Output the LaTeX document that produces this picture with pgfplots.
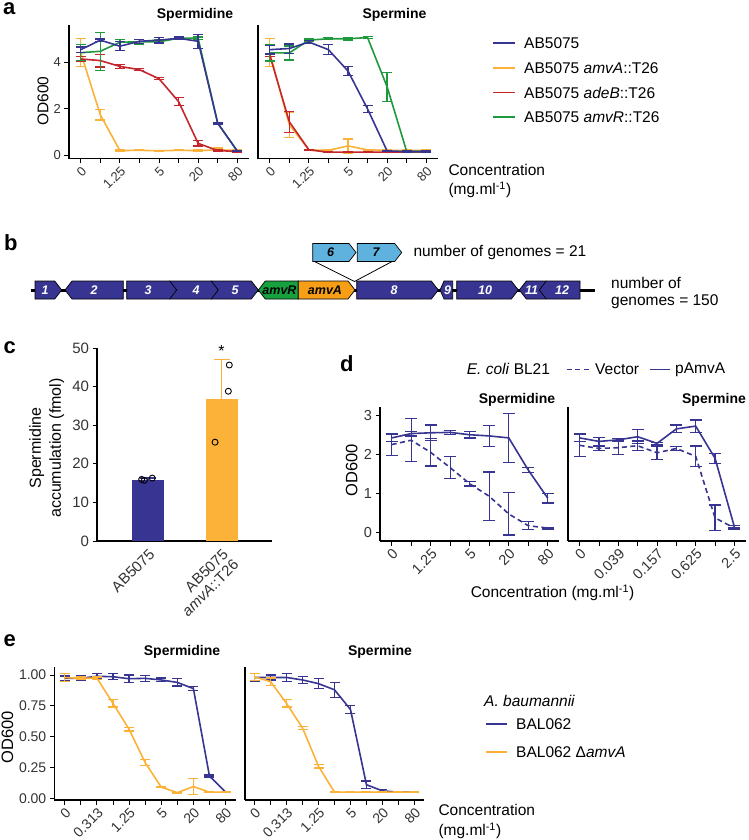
\documentclass[border=0pt]{standalone}
\usepackage{fontspec}
\setmainfont{Liberation Sans}
\usepackage{pgfplots}
\pgfplotsset{compat=1.18}
\definecolor{cblue}{RGB}{56,52,145}
\definecolor{corange}{RGB}{252,178,56}
\definecolor{cred}{RGB}{196,38,44}
\definecolor{cgreen}{RGB}{30,154,60}
\definecolor{gorange}{RGB}{245,158,22}
\definecolor{glight}{RGB}{96,178,222}
\definecolor{ggreen}{RGB}{22,160,62}
\newcommand{\fs}[1]{\fontsize{#1}{#1}\selectfont}
\newcommand{\gfont}{\fs{12.5}\bfseries\itshape}
\pgfplotsset{
  gg/.style={scale only axis, anchor=south west, clip=false,
    axis x line*=bottom, axis y line*=left,
    axis line style={line width=1.1pt,-,black},
    tick style={black, line width=0.9pt},
    tick align=outside, major tick length=4.5pt,
    tick label style={font=\fs{14}, text=black!80},
    /pgf/number format/assume math mode=true,
    xticklabel style={rotate=45, anchor=north east, inner sep=1.5pt},
  },
  eb/.style={line width=1.6pt, mark=none,
    /pgfplots/error bars/y dir=both,
    /pgfplots/error bars/y explicit,
    /pgfplots/error bars/error bar style={line width=1.3pt, solid},
    /pgfplots/error bars/error mark options={rotate=90, mark size=#1, line width=1.3pt, solid}},
  eb/.default=5pt,
}
% right-pointing gene: x1 x2 ymid fill
\newcommand{\gR}[4]{%
  \filldraw[fill=#4,draw=black,line width=0.7pt] (#1pt,{-(#3-9)*1pt}) -- ({(#2-7)*1pt},{-(#3-9)*1pt}) -- (#2pt,-#3pt) -- ({(#2-7)*1pt},{-(#3+9)*1pt}) -- (#1pt,{-(#3+9)*1pt}) -- cycle;}
% left-pointing gene
\newcommand{\gL}[4]{%
  \filldraw[fill=#4,draw=black,line width=0.7pt] (#1pt,-#3pt) -- ({(#1+7)*1pt},{-(#3-9)*1pt}) -- (#2pt,{-(#3-9)*1pt}) -- (#2pt,{-(#3+9)*1pt}) -- ({(#1+7)*1pt},{-(#3+9)*1pt}) -- cycle;}
% gene label: x y text colour
\newcommand{\gT}[4]{\node[text=#4,font=\gfont,inner sep=0] at (#1pt,-#2pt) {#3};}
\begin{document}
\begin{tikzpicture}
\useasboundingbox (0pt,0pt) rectangle (748pt,-840pt);
% ---------- panel letters
\node[font=\fs{22}\bfseries, anchor=base west, inner sep=0] at (3pt,-14.5pt) {a};
\node[font=\fs{22}\bfseries, anchor=base west, inner sep=0] at (4pt,-250pt) {b};
\node[font=\fs{22}\bfseries, anchor=base west, inner sep=0] at (3.3pt,-353.3pt) {c};
\node[font=\fs{22}\bfseries, anchor=base west, inner sep=0] at (340pt,-371.7pt) {d};
\node[font=\fs{22}\bfseries, anchor=base west, inner sep=0] at (3.3pt,-646.7pt) {e};

% ================= panel a
\begin{axis}[gg, at={(69pt,-158.7pt)}, width=180pt, height=133.9pt,
  xmin=-0.6, xmax=8.6, ymin=-0.16, ymax=5.6,
  xtick={0,...,8}, xticklabels={0,,1.25,,5,,20,,80},
  ytick={0,2,4}, yticklabels={0,2,4}, tick label style={font=\fs{13}}]
\addplot[corange, eb] table[x index=0, y index=1, y error index=2] {
0 4.4 0.6
1 1.73 0.22
2 0.19 0.02
3 0.2 0.02
4 0.18 0.02
5 0.2 0.02
6 0.19 0.03
7 0.22 0.08
8 0.2 0.05
};
\addplot[cred, eb] table[x index=0, y index=1, y error index=2] {
0 4.13 0.1
1 4.06 0.27
2 3.81 0.08
3 3.67 0.05
4 3.28 0.04
5 2.3 0.18
6 0.5 0.12
7 0.19 0.03
8 0.15 0.03
};
\addplot[cgreen, eb] table[x index=0, y index=1, y error index=2] {
0 4.4 0.35
1 4.46 0.82
2 4.85 0.13
3 4.87 0.1
4 4.87 0.08
5 5.02 0.05
6 5.02 0.05
7 1.37 0.03
8 0.17 0.03
};
\addplot[cblue, eb] table[x index=0, y index=1, y error index=2] {
0 4.53 0.12
1 4.94 0.05
2 4.68 0.2
3 4.89 0.08
4 4.94 0.12
5 5.02 0.05
6 4.89 0.3
7 1.37 0.04
8 0.17 0.03
};
\end{axis}
\begin{axis}[gg, at={(258pt,-158.7pt)}, width=180pt, height=133.9pt,
  xmin=-0.6, xmax=8.6, ymin=-0.16, ymax=5.6,
  xtick={0,...,8}, xticklabels={0,,1.25,,5,,20,,80},
  ytick=\empty, tick label style={font=\fs{13}}]
\addplot[corange, eb] table[x index=0, y index=1, y error index=2] {
0 4.4 0.6
1 1.3 0.55
2 0.22 0.03
3 0.2 0.03
4 0.39 0.3
5 0.22 0.03
6 0.2 0.03
7 0.2 0.03
8 0.2 0.05
};
\addplot[cred, eb] table[x index=0, y index=1, y error index=2] {
0 4.3 0.05
1 1.43 0.45
2 0.22 0.02
3 0.12 0.02
4 0.12 0.02
5 0.12 0.02
6 0.12 0.02
7 0.12 0.02
8 0.12 0.02
};
\addplot[cgreen, eb] table[x index=0, y index=1, y error index=2] {
0 4.39 0.35
1 4.39 0.3
2 4.94 0.05
3 5.0 0.04
4 5.0 0.06
5 5.05 0.04
6 2.93 0.62
7 0.15 0.02
8 0.15 0.02
};
\addplot[cblue, eb] table[x index=0, y index=1, y error index=2] {
0 4.53 0.18
1 4.58 0.2
2 4.86 0.05
3 4.53 0.22
4 3.61 0.2
5 1.98 0.15
6 0.17 0.02
7 0.15 0.02
8 0.15 0.02
};
\end{axis}
\node[font=\fs{14}\bfseries, inner sep=0] at (195pt,-14.5pt) {Spermidine};
\node[font=\fs{14}\bfseries, inner sep=0] at (394.5pt,-14.5pt) {Spermine};
\node[font=\fs{15.5}, rotate=90, inner sep=0] at (43pt,-101pt) {OD600};
\node[font=\fs{15.5}, anchor=west, inner sep=0] at (448.3pt,-170pt) {Concentration};
\node[font=\fs{15.5}, anchor=west, inner sep=0] at (448.3pt,-190pt) {(mg.ml\textsuperscript{-1})};
% legend a
\draw[cblue, line width=1.6pt] (493.3pt,-43.3pt) -- (515pt,-43.3pt);
\draw[corange, line width=1.6pt] (493.3pt,-68.3pt) -- (515pt,-68.3pt);
\draw[cred, line width=1.6pt] (493.3pt,-92.7pt) -- (515pt,-92.7pt);
\draw[cgreen, line width=1.6pt] (493.3pt,-117.3pt) -- (515pt,-117.3pt);
\node[font=\fs{15.5}, anchor=west, inner sep=0] at (524pt,-43.3pt) {AB5075};
\node[font=\fs{15.5}, anchor=west, inner sep=0] at (524pt,-68.3pt) {AB5075 \textit{amvA}::T26};
\node[font=\fs{15.5}, anchor=west, inner sep=0] at (524pt,-92.7pt) {AB5075 \textit{adeB}::T26};
\node[font=\fs{15.5}, anchor=west, inner sep=0] at (524pt,-117.3pt) {AB5075 \textit{amvR}::T26};

% ================= panel b
\draw[line width=3pt] (30.7pt,-290pt) -- (595pt,-290pt);
\gR{35}{61.7}{290}{cblue}
\gL{65}{123.3}{290}{cblue}
\gR{211.3}{258.3}{290}{cblue}
\gR{169.7}{218.3}{290}{cblue}
\gR{126.7}{176.7}{290}{cblue}
\gL{258.3}{298.3}{290}{ggreen}
\gR{298.3}{355}{290}{gorange}
\gR{356.7}{438.3}{290}{cblue}
\filldraw[fill=cblue,draw=black,line width=0.7pt] (440pt,-290pt) -- (444pt,-281pt) -- (452.7pt,-281pt) -- (452.7pt,-299pt) -- (444pt,-299pt) -- cycle;
\gR{456.7}{518.3}{290}{cblue}
\gL{519.3}{546}{290}{cblue}
\gL{539.3}{580}{290}{cblue}
\gR{312.7}{356}{252.5}{glight}
\gR{357.3}{401.7}{252.5}{glight}
\gT{45}{290}{1}{white}
\gT{94}{290}{2}{white}
\gT{148}{290}{3}{white}
\gT{196}{290}{4}{white}
\gT{235}{290}{5}{white}
\gT{279.5}{290}{amvR}{black}
\gT{325}{290}{amvA}{black}
\gT{394}{290}{8}{white}
\gT{447.5}{290}{9}{white}
\gT{485}{290}{10}{white}
\gT{531.5}{290}{11}{white}
\gT{562}{290}{12}{white}
\gT{330.5}{252.5}{6}{black}
\gT{376}{252.5}{7}{black}
\draw[line width=0.8pt] (315pt,-261.7pt) -- (354.5pt,-281.5pt) -- (391.7pt,-261.7pt);
\node[font=\fs{15.5}, anchor=west, inner sep=0] at (413.3pt,-252.5pt) {number of genomes = 21};
\node[font=\fs{15.5}, anchor=west, inner sep=0] at (611pt,-283pt) {number of};
\node[font=\fs{15.5}, anchor=west, inner sep=0] at (611pt,-302pt) {genomes = 150};

% ================= panel c
\begin{axis}[gg, at={(97pt,-541pt)}, width=175pt, height=193pt,
  xmin=0.306, xmax=2.687, ymin=0, ymax=50,
  xtick={1,2}, xticklabels={AB5075,{AB5075\\\textit{amvA}::T26}},
  xticklabel style={align=right, font=\fs{15}},
  xtick style={draw=none},
  ytick={0,10,20,30,40,50}, yticklabels={0,10,20,30,40,50},
  tick label style={font=\fs{15}}]
\addplot[ybar, bar width=32pt, bar shift=0pt, fill=cblue, draw=none,
  error bars/.cd, y dir=plus, y explicit,
  error bar style={cblue, line width=1.3pt},
  error mark options={rotate=90, cblue, mark size=8pt, line width=1.3pt}]
  coordinates {(1,15.9) +- (0,0.4)};
\addplot[ybar, bar width=32pt, bar shift=0pt, fill=corange, draw=none,
  error bars/.cd, y dir=plus, y explicit,
  error bar style={corange, line width=1.3pt},
  error mark options={rotate=90, corange, mark size=8pt, line width=1.3pt}]
  coordinates {(2,36.7) +- (0,10.3)};
\addplot[only marks, mark=o, mark size=3pt, black, mark options={line width=0.9pt}]
  coordinates {(0.914,15.96) (0.95,15.7) (1.058,16.3) (2.106,45.6) (2.093,38.8) (1.912,25.6)};
\node[font=\fs{16}, inner sep=0] at (axis cs:2,49.2) {*};
\end{axis}
\node[font=\fontsize{16}{20}\selectfont, rotate=90, align=center, inner sep=0] at (46.7pt,-448pt) {Spermidine\\accumulation (fmol)};

% ================= panel d
\begin{axis}[gg, at={(380pt,-541pt)}, width=179.5pt, height=133.7pt,
  xmin=-0.6, xmax=8.6, ymin=-0.21, ymax=3.2,
  xtick={0,...,8}, xticklabels={0,,1.25,,5,,20,,80},
  ytick={0,1,2,3}, yticklabels={0,1,2,3}, tick label style={font=\fs{14.5}}]
\addplot[cblue, eb=6pt, dash pattern=on 5pt off 3.5pt] table[x index=0, y index=1, y error index=2] {
0 2.25 0.28
1 2.36 0.55
2 2.05 0.35
3 1.66 0.28
4 1.25 0.06
5 0.93 0.62
6 0.48 0.54
7 0.18 0.1
8 0.12 0.02
};
\addplot[cblue, eb=6pt] table[x index=0, y index=1, y error index=2] {
0 2.42 0.1
1 2.53 0.06
2 2.55 0.2
3 2.56 0.05
4 2.5 0.08
5 2.47 0.27
6 2.42 0.62
7 1.6 0.06
8 0.88 0.12
};
\end{axis}
\begin{axis}[gg, at={(568pt,-541pt)}, width=178pt, height=133.7pt,
  xmin=-0.6, xmax=8.6, ymin=-0.21, ymax=3.2,
  xtick={0,...,8}, xticklabels={0,,0.039,,0.157,,0.625,,2.5},
  ytick=\empty, tick label style={font=\fs{14.5}}]
\addplot[cblue, eb=6pt, dash pattern=on 5pt off 3.5pt] table[x index=0, y index=1, y error index=2] {
0 2.23 0.28
1 2.15 0.06
2 2.17 0.17
3 2.22 0.12
4 2.04 0.17
5 2.15 0.05
6 1.95 0.26
7 0.38 0.33
8 0.12 0.02
};
\addplot[cblue, eb=6pt] table[x index=0, y index=1, y error index=2] {
0 2.42 0.1
1 2.33 0.1
2 2.37 0.04
3 2.45 0.18
4 2.28 0.03
5 2.65 0.1
6 2.72 0.16
7 1.9 0.13
8 0.15 0.04
};
\end{axis}
\node[font=\fs{14}\bfseries, inner sep=0] at (517pt,-399.5pt) {Spermidine};
\node[font=\fs{14}\bfseries, inner sep=0] at (714pt,-399.5pt) {Spermine};
\node[font=\fs{16.5}, rotate=90, inner sep=0] at (351.7pt,-470pt) {OD600};
\node[font=\fs{15.5}, inner sep=0] at (552.5pt,-592.5pt) {Concentration (mg.ml\textsuperscript{-1})};
% legend d
\node[font=\fs{15.5}, anchor=west, inner sep=0] at (466.7pt,-369.3pt) {\textit{E. coli} BL21};
\draw[cblue, line width=1.6pt, dash pattern=on 5pt off 3.5pt] (566.7pt,-369.3pt) -- (590pt,-369.3pt);
\node[font=\fs{15.5}, anchor=west, inner sep=0] at (595pt,-369.3pt) {Vector};
\draw[cblue, line width=1.6pt] (650pt,-369.3pt) -- (670pt,-369.3pt);
\node[font=\fs{15.5}, anchor=west, inner sep=0] at (675pt,-369.3pt) {pAmvA};

% ================= panel e
\begin{axis}[gg, at={(54.3pt,-800pt)}, width=181.7pt, height=133pt,
  xmin=-0.65, xmax=10.65, ymin=-0.014, ymax=1.065,
  xtick={0,...,10}, xticklabels={0,,0.313,,1.25,,5,,20,,80},
  ytick={0,0.25,0.5,0.75,1}, yticklabels={0.00,0.25,0.50,0.75,1.00}]
\addplot[cblue, eb] table[x index=0, y index=1, y error index=2] {
0 0.973 0.02
1 0.973 0.02
2 0.99 0.02
3 0.986 0.025
4 0.97 0.03
5 0.973 0.025
6 0.96 0.015
7 0.94 0.03
8 0.89 0.015
9 0.18 0.008
10 0.05 0.003
};
\addplot[corange, eb] table[x index=0, y index=1, y error index=2] {
0 0.98 0.03
1 0.973 0.012
2 0.975 0.01
3 0.77 0.03
4 0.56 0.015
5 0.29 0.025
6 0.09 0.005
7 0.046 0.003
8 0.095 0.065
9 0.05 0.003
10 0.05 0.003
};
\end{axis}
\begin{axis}[gg, at={(245pt,-800pt)}, width=179pt, height=133pt,
  xmin=-0.6, xmax=10.6, ymin=-0.014, ymax=1.065,
  xtick={0,...,10}, xticklabels={0,,0.313,,1.25,,5,,20,,80},
  ytick=\empty]
\addplot[cblue, eb] table[x index=0, y index=1, y error index=2] {
0 0.98 0.03
1 0.98 0.02
2 0.98 0.03
3 0.96 0.03
4 0.93 0.04
5 0.88 0.06
6 0.72 0.03
7 0.11 0.03
8 0.06 0.01
9 0.05 0.003
10 0.05 0.003
};
\addplot[corange, eb] table[x index=0, y index=1, y error index=2] {
0 0.985 0.03
1 0.946 0.03
2 0.77 0.03
3 0.57 0.01
4 0.26 0.015
5 0.05 0.003
6 0.05 0.003
7 0.05 0.003
8 0.05 0.003
9 0.05 0.003
10 0.05 0.003
};
\end{axis}
\node[font=\fs{14}\bfseries, inner sep=0] at (182pt,-652pt) {Spermidine};
\node[font=\fs{14}\bfseries, inner sep=0] at (380pt,-652pt) {Spermine};
\node[font=\fs{16.5}, rotate=90, inner sep=0] at (7.5pt,-737pt) {OD600};
\node[font=\fs{15.5}, anchor=west, inner sep=0] at (438.3pt,-810pt) {Concentration};
\node[font=\fs{15.5}, anchor=west, inner sep=0] at (438.3pt,-831pt) {(mg.ml\textsuperscript{-1})};
% legend e
\node[font=\fs{15.5}\itshape, anchor=west, inner sep=0] at (484pt,-701pt) {A. baumannii};
\draw[cblue, line width=1.6pt] (486pt,-724pt) -- (507pt,-724pt);
\draw[corange, line width=1.6pt] (486pt,-752pt) -- (507pt,-752pt);
\node[font=\fs{15.5}, anchor=west, inner sep=0] at (516pt,-724pt) {BAL062};
\node[font=\fs{15.5}, anchor=west, inner sep=0] at (516pt,-752pt) {BAL062 Δ\textit{amvA}};
\end{tikzpicture}
\end{document}
